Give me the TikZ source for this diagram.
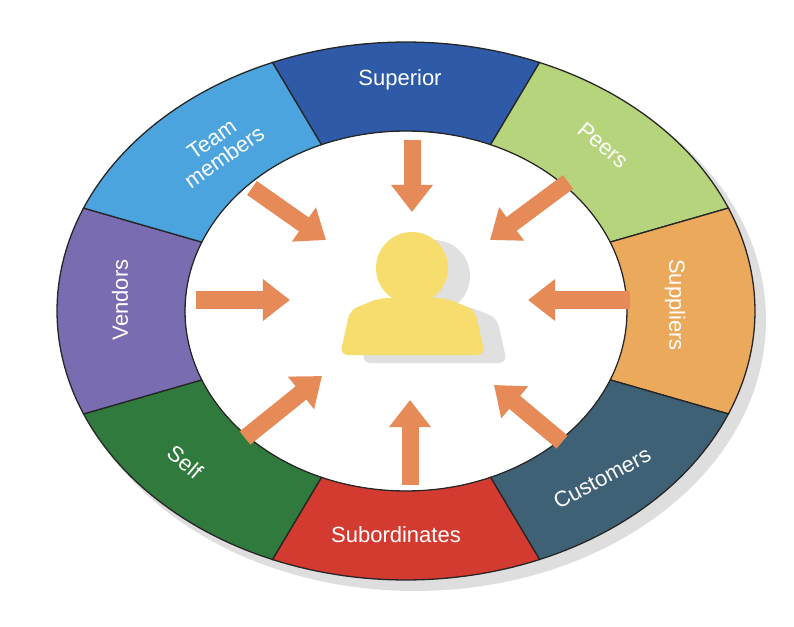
\documentclass[tikz,border=0pt]{standalone}
\usepackage{fontspec}
\setmainfont{Liberation Sans}
\usetikzlibrary{arrows.meta}
\definecolor{cSup}{HTML}{2E5AA8}
\definecolor{cPeer}{HTML}{B6D47C}
\definecolor{cSupp}{HTML}{EBA95C}
\definecolor{cCust}{HTML}{3F6176}
\definecolor{cSub}{HTML}{D43B30}
\definecolor{cSelf}{HTML}{2F7A3C}
\definecolor{cVend}{HTML}{7A6CB0}
\definecolor{cTeam}{HTML}{4CA4DE}
\definecolor{cArr}{HTML}{E68A57}
\definecolor{cPers}{HTML}{F6DD6E}
\tikzset{
 seg/.style={draw=black!85,line width=1.3pt},
 lab/.style={text=white,font=\fontsize{22}{23}\selectfont,align=center},
 arr/.style={draw=cArr,line width=17pt,-{Triangle[width=40pt,length=27pt]}}
}
\begin{document}
\begin{tikzpicture}[x=1pt,y=1pt]
\useasboundingbox (-406,-315) rectangle (388,311);
\fill[black!13] (9,-9) ellipse[x radius=351,y radius=271];
\foreach \a/\b/\c in {67.5/112.5/cSup,22.5/67.5/cPeer,-22.5/22.5/cSupp,-67.5/-22.5/cCust,-112.5/-67.5/cSub,-157.5/-112.5/cSelf,157.5/202.5/cVend,112.5/157.5/cTeam}{
 \path[seg,fill=\c] plot[domain=\a:\b,samples=30] ({349*cos(\x)},{269*sin(\x)}) -- plot[domain=\b:\a,samples=30] ({221*cos(\x)},{180*sin(\x)}) -- cycle;
}
\fill[white] (0,0) ellipse[x radius=220,y radius=179];
\begin{scope}[x=1pt,y=-1pt,shift={(-406,-311)}]
 \node[lab] (sup) at (400,80) {Superior};
 \node[lab,rotate=-40] (peer) at (603,145) {Peers};
 \node[lab,rotate=-90] (supp) at (675,305) {Suppliers};
 \node[lab,rotate=28] (cust) at (602,478) {Customers};
 \node[lab] (sub) at (396,535) {Subordinates};
 \node[lab,rotate=-40] (self) at (185,462) {Self};
 \node[lab,rotate=90] (vend) at (120,300) {Vendors};
 \node[lab,rotate=35,font=\fontsize{22}{22}\selectfont] (team) at (218,148) {Team\\members};
 \fill[black!12,rounded corners=8pt] (362,363)--(372,318)--(402,306)--(467,306)--(497,318)--(507,363)--cycle;
 \fill[black!12] (434,276) circle (36);
 \fill[cPers,rounded corners=8pt] (340,355)--(350,310)--(380,298)--(445,298)--(475,310)--(485,355)--cycle;
 \fill[cPers] (412,268) circle (36);
 \foreach \tx/\ty/\hx/\hy in {412/140/412/212, 568/182/490/240, 630/300/528/300, 562/442/494/385, 410/485/410/400, 245/438/322/376, 196/300/290/300, 252/188/326/240}{
  \draw[arr] (\tx,\ty) -- (\hx,\hy);
 }
\end{scope}
\end{tikzpicture}
\end{document}
